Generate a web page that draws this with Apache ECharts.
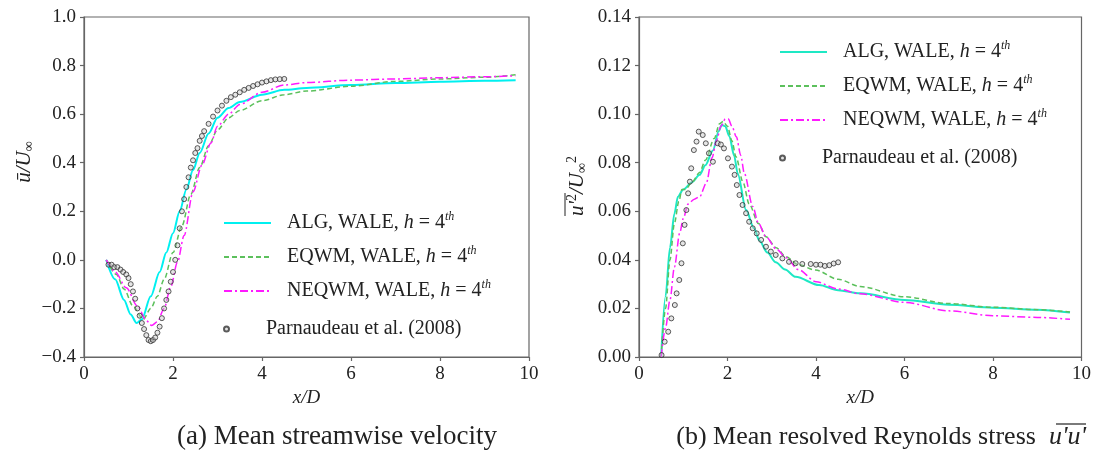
<!DOCTYPE html>
<html>
<head>
<meta charset="utf-8">
<script src="https://cdn.jsdelivr.net/npm/echarts@6/dist/echarts.min.js"></script>
<style>
  html, body { margin: 0; padding: 0; background: #fff; }
  #chart { width: 1094px; height: 464px; }
</style>
</head>
<body>
<div id="chart"></div>
<script>
// (a) mean streamwise velocity u/U
const algUX = [0.5, 0.7, 0.9, 1.05, 1.18, 1.3, 1.5, 1.7, 1.85, 2.0, 2.15, 2.3, 2.45, 2.6, 2.8, 3.0, 3.25, 3.5, 4.0, 4.5, 5.0, 6.0, 7.0, 8.0, 9.0, 9.7];
const algUY = [0.0, -0.08, -0.165, -0.225, -0.26, -0.245, -0.15, -0.05, 0.03, 0.11, 0.2, 0.29, 0.37, 0.44, 0.52, 0.585, 0.625, 0.65, 0.68, 0.70, 0.708, 0.72, 0.728, 0.733, 0.737, 0.74];
const eqUX = [0.5, 0.73, 0.9, 1.1, 1.33, 1.5, 1.65, 1.8, 2.0, 2.2, 2.4, 2.6, 2.8, 3.0, 3.25, 3.5, 4.0, 4.5, 5.0, 6.0, 7.0, 8.0, 9.0, 9.7];
const eqUY = [0.0, -0.06, -0.12, -0.19, -0.245, -0.2, -0.15, -0.08, 0.03, 0.14, 0.27, 0.38, 0.47, 0.535, 0.585, 0.615, 0.655, 0.68, 0.695, 0.715, 0.735, 0.745, 0.752, 0.762];
const neqUX = [0.5, 0.7, 0.95, 1.2, 1.4, 1.52, 1.65, 1.8, 1.95, 2.1, 2.25, 2.45, 2.65, 2.85, 3.0, 3.25, 3.5, 4.0, 4.5, 5.0, 6.0, 7.0, 8.0, 9.0, 9.7];
const neqUY = [0.0, -0.05, -0.115, -0.19, -0.25, -0.27, -0.255, -0.2, -0.11, -0.01, 0.1, 0.28, 0.39, 0.48, 0.55, 0.6, 0.64, 0.69, 0.72, 0.73, 0.74, 0.745, 0.75, 0.754, 0.758];
const parUX = [0.55, 0.62, 0.68, 0.75, 0.82, 0.88, 0.95, 1.0, 1.05, 1.1, 1.15, 1.2, 1.25, 1.3, 1.35, 1.4, 1.45, 1.5, 1.55, 1.6, 1.65, 1.7, 1.75, 1.8, 1.85, 1.9, 1.95, 2.0, 2.05, 2.1, 2.15, 2.2, 2.25, 2.3, 2.35, 2.4, 2.45, 2.5, 2.55, 2.6, 2.65, 2.7, 2.8, 2.9, 3.0, 3.1, 3.2, 3.3, 3.4, 3.5, 3.6, 3.7, 3.8, 3.9, 4.0, 4.1, 4.2, 4.3, 4.4, 4.5];
const parUY = [-0.02, -0.02, -0.03, -0.03, -0.04, -0.05, -0.06, -0.075, -0.1, -0.13, -0.16, -0.2, -0.23, -0.26, -0.285, -0.31, -0.33, -0.335, -0.33, -0.32, -0.3, -0.275, -0.24, -0.2, -0.165, -0.13, -0.09, -0.05, 0.0, 0.06, 0.13, 0.2, 0.25, 0.3, 0.34, 0.38, 0.41, 0.44, 0.46, 0.49, 0.51, 0.53, 0.56, 0.59, 0.615, 0.635, 0.655, 0.67, 0.68, 0.69, 0.70, 0.708, 0.716, 0.723, 0.73, 0.735, 0.74, 0.743, 0.744, 0.745];

// (b) resolved Reynolds stress u'u'
const algRX = [0.5, 0.6, 0.7, 0.8, 0.88, 1.0, 1.2, 1.37, 1.5, 1.67, 1.8, 1.87, 1.95, 2.04, 2.15, 2.23, 2.42, 2.6, 2.72, 2.9, 3.09, 3.3, 3.54, 4.07, 4.5, 5.0, 6.0, 7.0, 8.0, 9.0, 9.74];
const algRY = [0.0, 0.025, 0.045, 0.059, 0.066, 0.069, 0.072, 0.075, 0.079, 0.085, 0.093, 0.0955, 0.095, 0.091, 0.083, 0.0756, 0.0605, 0.053, 0.048, 0.043, 0.039, 0.036, 0.033, 0.0296, 0.0275, 0.0262, 0.0235, 0.0215, 0.0203, 0.0195, 0.0183];
const eqRX = [0.5, 0.6, 0.7, 0.8, 0.9, 0.97, 1.05, 1.2, 1.37, 1.5, 1.7, 1.82, 1.9, 2.0, 2.1, 2.19, 2.35, 2.49, 2.7, 2.87, 3.1, 3.32, 3.6, 3.99, 4.5, 5.0, 6.0, 7.0, 8.0, 9.0, 9.74];
const eqRY = [0.0, 0.02, 0.04, 0.055, 0.064, 0.069, 0.069, 0.072, 0.076, 0.081, 0.09, 0.096, 0.097, 0.095, 0.089, 0.0825, 0.072, 0.063, 0.055, 0.0495, 0.045, 0.0413, 0.038, 0.0358, 0.032, 0.029, 0.0248, 0.022, 0.0205, 0.0195, 0.0185];
const neqRX = [0.5, 0.6, 0.7, 0.8, 0.92, 1.0, 1.11, 1.25, 1.37, 1.52, 1.65, 1.75, 1.85, 1.95, 2.02, 2.1, 2.2, 2.3, 2.38, 2.57, 2.7, 2.87, 3.1, 3.32, 3.6, 4.0, 4.5, 5.0, 6.0, 7.0, 8.0, 9.0, 9.74];
const neqRY = [0.0, 0.012, 0.0235, 0.037, 0.051, 0.057, 0.063, 0.065, 0.066, 0.0715, 0.082, 0.089, 0.095, 0.098, 0.098, 0.095, 0.0907, 0.083, 0.0756, 0.062, 0.055, 0.0495, 0.0445, 0.041, 0.036, 0.031, 0.028, 0.026, 0.0225, 0.019, 0.017, 0.0163, 0.0155];
const parRX = [0.51, 0.58, 0.66, 0.73, 0.81, 0.85, 0.91, 0.96, 0.99, 1.03, 1.07, 1.11, 1.15, 1.18, 1.24, 1.3, 1.35, 1.44, 1.51, 1.58, 1.67, 1.78, 1.85, 1.92, 2.01, 2.1, 2.16, 2.21, 2.27, 2.34, 2.42, 2.49, 2.57, 2.66, 2.76, 2.87, 2.98, 3.09, 3.24, 3.39, 3.54, 3.69, 3.88, 4.0, 4.1, 4.2, 4.3, 4.4, 4.5];
const parRY = [0.0008, 0.0063, 0.0104, 0.0159, 0.0214, 0.0262, 0.0317, 0.0386, 0.0468, 0.0544, 0.0605, 0.0674, 0.0722, 0.0777, 0.0852, 0.0887, 0.0928, 0.0914, 0.088, 0.0839, 0.0804, 0.088, 0.0875, 0.0859, 0.0818, 0.0784, 0.075, 0.0708, 0.0667, 0.0626, 0.0592, 0.0557, 0.053, 0.0509, 0.0482, 0.0454, 0.0434, 0.042, 0.0406, 0.0392, 0.0386, 0.0383, 0.0383, 0.038, 0.038, 0.0375, 0.0378, 0.0385, 0.039];

const SERIF = '"Liberation Serif", "DejaVu Serif", serif';
const pairs = (xs, ys) => xs.map((x, i) => [x, ys[i]]);

const legendText = {
  aALG: 'ALG', aEQ: 'EQWM', aNEQ: 'NEQWM', aPAR: 'Parnaudeau',
  bALG: 'ALG', bEQ: 'EQWM', bNEQ: 'NEQWM', bPAR: 'Parnaudeau'
};
function legendLabel(name) {
  const k = legendText[name];
  if (k === 'Parnaudeau') return '{n|Parnaudeau et al. (2008)}';
  return '{n|' + k + ', WALE, }{i|h}{n| = 4}{s|th}';
}
const legendRich = {
  n: { fontFamily: SERIF, fontSize: 20, color: '#222', lineHeight: 24 },
  i: { fontFamily: SERIF, fontSize: 20, fontStyle: 'italic', color: '#222', lineHeight: 24 },
  s: { fontFamily: SERIF, fontSize: 12, fontStyle: 'italic', color: '#222', lineHeight: 12, verticalAlign: 'top' }
};
// lines only in the legend, no marker on them
function makeLegend(names, left, top, h, hideMarker) {
  const lg = {
    orient: 'vertical', left, top,
    itemWidth: 47, itemHeight: h, itemGap: 12,
    selectedMode: false,
    data: names,
    formatter: legendLabel,
    textStyle: { rich: legendRich, padding: [0, 0, 0, 11] }
  };
  if (hideMarker) lg.itemStyle = { color: 'rgba(0,0,0,0)', borderColor: 'rgba(0,0,0,0)', borderWidth: 0 };
  return lg;
}

const labelStyle = { fontFamily: SERIF, fontSize: 19, color: '#222', margin: 8 };
const axisLine = { show: true, onZero: false, lineStyle: { color: '#666', width: 1.2 } };
const axisTick = { show: true, length: 4, lineStyle: { color: '#666', width: 1.2 } };

function xAxis(gridIndex) {
  return {
    type: 'value', gridIndex, min: 0, max: 10, interval: 2,
    axisLine, axisTick, splitLine: { show: false },
    axisLabel: labelStyle,
    name: '{i|x/D}', nameLocation: 'middle', nameGap: 31,
    nameTextStyle: { rich: { i: { fontFamily: SERIF, fontSize: 19, fontStyle: 'italic', color: '#222' } } }
  };
}

function lineSeries(name, xi, xs, ys, color, type, width) {
  return {
    name, type: 'line', xAxisIndex: xi, yAxisIndex: xi,
    data: pairs(xs, ys), symbol: 'none', smooth: 0.3, smoothMonotone: 'x',
    lineStyle: { color, type, width }, itemStyle: { color }, z: 3
  };
}
function dotSeries(name, xi, xs, ys) {
  return {
    name, type: 'scatter', xAxisIndex: xi, yAxisIndex: xi,
    data: pairs(xs, ys), symbol: 'circle', symbolSize: 5,
    itemStyle: { color: 'rgba(190,190,190,0.5)', borderColor: '#333', borderWidth: 1 }, z: 4
  };
}

const chart = echarts.init(document.getElementById('chart'));
chart.setOption({
  animation: false,
  backgroundColor: '#fff',
  grid: [
    { left: 84, top: 17, width: 445, height: 340, show: true, borderColor: '#666', borderWidth: 1.2 },
    { left: 639, top: 17, width: 445, height: 340, show: true, borderColor: '#666', borderWidth: 1.2 }
  ],
  xAxis: [xAxis(0), xAxis(1)],
  yAxis: [
    {
      type: 'value', gridIndex: 0, min: -0.4, max: 1.0, interval: 0.2,
      axisLine, axisTick, splitLine: { show: false },
      axisLabel: Object.assign({}, labelStyle, {
        formatter: v => (v < -1e-9 ? '\u2212' : '') + Math.abs(v).toFixed(1)
      })
    },
    {
      type: 'value', gridIndex: 1, min: 0, max: 0.14, interval: 0.02,
      axisLine, axisTick, splitLine: { show: false },
      axisLabel: Object.assign({}, labelStyle, { formatter: v => v.toFixed(2) })
    }
  ],
  legend: [
    makeLegend(['aALG', 'aEQ', 'aNEQ'], 218, 206, 14, true),
    makeLegend(['aPAR'], 218, 314, 5, false),
    makeLegend(['bALG', 'bEQ', 'bNEQ'], 774, 35, 14, true),
    makeLegend(['bPAR'], 774, 143, 5, false)
  ],
  series: [
    lineSeries('aALG', 0, algUX, algUY, '#00f0f0', 'solid', 2),
    lineSeries('aEQ', 0, eqUX, eqUY, '#5cc05c', [5, 3], 1.5),
    lineSeries('aNEQ', 0, neqUX, neqUY, '#ff1aff', [8, 3, 2, 3], 1.5),
    dotSeries('aPAR', 0, parUX, parUY),
    lineSeries('bALG', 1, algRX, algRY, '#1ee8c4', 'solid', 2),
    lineSeries('bEQ', 1, eqRX, eqRY, '#5cc05c', [5, 3], 1.5),
    lineSeries('bNEQ', 1, neqRX, neqRY, '#ff1aff', [8, 3, 2, 3], 1.5),
    dotSeries('bPAR', 1, parRX, parRY)
  ],
  graphic: [
    {
      type: 'group', x: 24, y: 162, rotation: Math.PI / 2,
      children: [{
        type: 'text',
        style: {
          text: '{i|\u016b/U}{b|\u221e}', align: 'center', verticalAlign: 'middle',
          rich: {
            i: { fontFamily: SERIF, fontSize: 21, fontStyle: 'italic', fill: '#222', lineHeight: 24 },
            b: { fontFamily: SERIF, fontSize: 14, fill: '#222', lineHeight: 13, verticalAlign: 'bottom' }
          }
        }
      }]
    },
    {
      type: 'group', x: 577, y: 180, rotation: Math.PI / 2,
      children: [
        {
          type: 'text', x: -36,
          style: {
            text: "{i|u'}{p|2}{i|/U}{b|\u221e}{p|2}", align: 'left', verticalAlign: 'middle',
            rich: {
              i: { fontFamily: SERIF, fontSize: 21, fontStyle: 'italic', fill: '#222', lineHeight: 24 },
              p: { fontFamily: SERIF, fontSize: 14, fill: '#222', lineHeight: 13, verticalAlign: 'top' },
              b: { fontFamily: SERIF, fontSize: 14, fill: '#222', lineHeight: 13, verticalAlign: 'bottom' }
            }
          }
        },
        { type: 'line', shape: { x1: -36, y1: -12, x2: -13, y2: -12 }, style: { stroke: '#222', lineWidth: 1 } }
      ]
    },
    {
      type: 'text', x: 337, y: 437,
      style: { text: '(a) Mean streamwise velocity', font: '27px "Liberation Serif"', fill: '#222', align: 'center', verticalAlign: 'middle' }
    },
    {
      type: 'group', x: 1086, y: 437,
      children: [
        {
          type: 'text',
          style: {
            text: "{n|(b) Mean resolved Reynolds stress  }{i|u'u'}", align: 'right', verticalAlign: 'middle',
            rich: {
              n: { fontFamily: SERIF, fontSize: 26, fill: '#222' },
              i: { fontFamily: SERIF, fontSize: 26, fontStyle: 'italic', fill: '#222' }
            }
          }
        },
        { type: 'line', shape: { x1: -30, y1: -13, x2: 0, y2: -13 }, style: { stroke: '#222', lineWidth: 1.2 } }
      ]
    }
  ]
});
</script>
</body>
</html>
